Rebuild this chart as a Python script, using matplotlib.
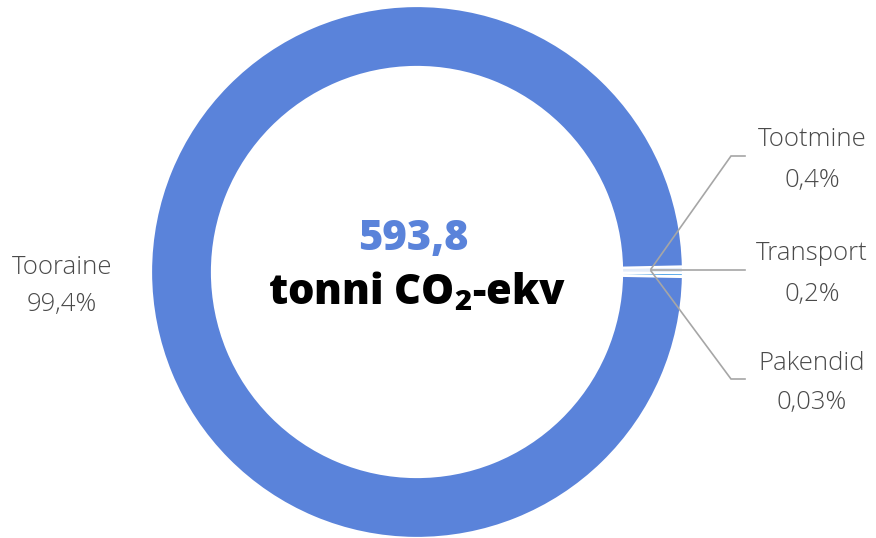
import matplotlib.pyplot as plt

plt.rcParams["font.family"] = ["Open Sans", "DejaVu Sans"]
plt.rcParams["mathtext.fontset"] = "custom"
plt.rcParams["mathtext.bf"] = "Open Sans:extrabold"
plt.rcParams["mathtext.rm"] = "Open Sans"

labels = ["Tootmine", "Transport", "Pakendid", "Tooraine"]
shares = [0.4, 0.2, 0.03, 99.4]
share_text = ["0,4%", "0,2%", "0,03%", "99,4%"]
colors = ["#E4ECF8", "#3F9BE6", "#A9C8EC", "#5A83DA"]
total = "593,8"

W, H = 876, 538
fig = plt.figure(figsize=(W / 100, H / 100), dpi=100)
ax = fig.add_axes([0, 0, 1, 1])

cx, cy = 417, H - 272
ax.pie(shares, radius=266, center=(cx, cy), startangle=1.2, counterclock=False,
       colors=colors, frame=True,
       wedgeprops=dict(width=61, edgecolor="white", linewidth=1.6))

ax.set_xlim(0, W)
ax.set_ylim(0, H)
ax.set_aspect("equal")
ax.axis("off")

gray = "#4A4A4A"
lead = "#A6A6A6"
tx = 812
fs = 18.5
# label positions (y in pixels from top) for the three small slices
label_y = [156, 270, 379]
for i in range(3):
    y = H - label_y[i]
    ax.plot([651, 731, 745], [H - 270 - (i - 1) * 1, y, y], color=lead, lw=1.2,
            solid_joinstyle="miter")
    ax.text(tx, y + 16, labels[i], ha="center", va="center", fontsize=fs,
            color=gray, fontweight="light")
    ax.text(tx, y - 24, share_text[i], ha="center", va="center", fontsize=fs,
            color=gray, fontweight="light")

ax.text(62, H - 268, labels[3], ha="center", va="center", fontsize=fs,
        color=gray, fontweight="light")
ax.text(62, H - 304, share_text[3], ha="center", va="center", fontsize=fs,
        color=gray, fontweight="light")

ax.text(413, H - 239, total, ha="center", va="center", fontsize=30,
        fontweight=800, color="#5A83DA")
ax.text(417, H - 292, r"tonni CO$_{\mathbf{2}}$-ekv", ha="center", va="center",
        fontsize=30, fontweight=800, color="black")

fig.savefig("out.png", dpi=100)
